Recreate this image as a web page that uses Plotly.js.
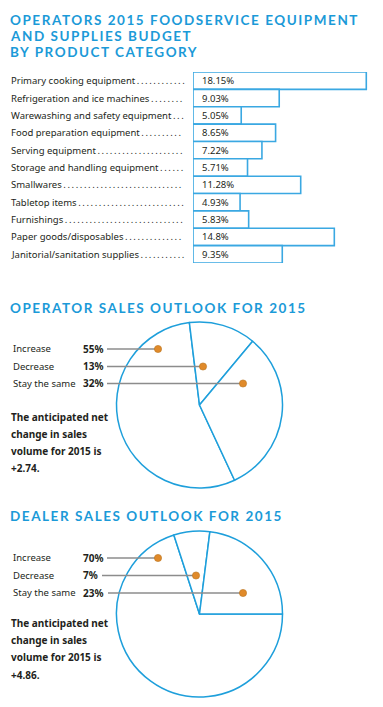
<!DOCTYPE html>
<html><head><meta charset="utf-8">
<script src="https://cdn.plot.ly/plotly-3.0.1.min.js"></script>
<style>
html,body{margin:0;padding:0;background:#fff;}
#chart{width:383px;height:707px;}
text.annotation-text[style*="Lato"]{letter-spacing:1.55px;}
</style></head><body><div id="chart"></div>
<script>
const categories = ['Primary cooking equipment','Refrigeration and ice machines','Warewashing and safety equipment','Food preparation equipment','Serving equipment','Storage and handling equipment','Smallwares','Tabletop items','Furnishings','Paper goods/disposables','Janitorial/sanitation supplies'];
const budgetShare = [18.15, 9.03, 5.05, 8.65, 7.22, 5.71, 11.28, 4.93, 5.83, 14.8, 9.35];
const outlookLabels = ['Increase','Decrease','Stay the same'];
const operatorOutlook = [55, 13, 32];
const dealerOutlook = [70, 7, 23];
const operatorNetChange = '+2.74';
const dealerNetChange = '+4.86';
const titleLines = ['OPERATORS 2015 FOODSERVICE EQUIPMENT','AND SUPPLIES BUDGET','BY PRODUCT CATEGORY'];
const operatorTitle = 'OPERATOR SALES OUTLOOK FOR 2015';
const dealerTitle = 'DEALER SALES OUTLOOK FOR 2015';

const W = 383, H = 707;
const px = x => x / W;
const py = y => 1 - y / H;
const BLUE = '#1b9ad8';
const BAR_LINE = '#3aa8e2';
const TXT = '#231f20';
const BODY = 'Noto Sans, sans-serif';
const HEAD = 'Lato, sans-serif';
const BODY_SIZE = 9.5;

const traces = [
  {type:'bar', orientation:'h', x: budgetShare, y: categories, xaxis:'x', yaxis:'y',
   marker:{color:'#ffffff', line:{color:BAR_LINE, width:1.6}}, hoverinfo:'skip', showlegend:false},
  {type:'pie', values: operatorOutlook, labels: outlookLabels, sort:false, direction:'clockwise', rotation:155,
   domain:{x:[px(116.5), px(282.5)], y:[py(488), py(322)]},
   marker:{colors:['#fff','#fff','#fff'], line:{color:'#1e9fdb', width:1.5}},
   textinfo:'none', hoverinfo:'skip', showlegend:false},
  {type:'pie', values: dealerOutlook, labels: outlookLabels, sort:false, direction:'clockwise', rotation:90,
   domain:{x:[px(116.5), px(282.5)], y:[py(697), py(531)]},
   marker:{colors:['#fff','#fff','#fff'], line:{color:'#1e9fdb', width:1.5}},
   textinfo:'none', hoverinfo:'skip', showlegend:false}
];

const ann = [];
const shapes = [];
const head = (text, y) => ann.push({text, x:px(8), y:py(y), xref:'paper', yref:'paper', xanchor:'left', yanchor:'middle',
  showarrow:false, font:{family:HEAD, size:13.5, color:BLUE, weight:700}});
[20, 35.5, 51.5].forEach((y, i) => head(titleLines[i], y));
head(operatorTitle, 308);
head(dealerTitle, 516);

// leader dots: fill from the end of each label to a fixed column
const ctx = document.createElement('canvas').getContext('2d');
ctx.font = BODY_SIZE + 'px "Noto Sans"';
const unit = '\u2009.';
const unitW = ctx.measureText(unit).width;
const LABEL_X = 9, LEADER_END = 185;
categories.forEach((c, i) => {
  const w = ctx.measureText(c).width;
  const n = Math.max(2, Math.floor((LEADER_END - LABEL_X - w - 2) / unitW));
  ann.push({text: c + unit.repeat(n), x:px(LABEL_X), y:c, xref:'paper', yref:'y', xanchor:'left', yanchor:'middle', showarrow:false,
    font:{family:BODY, size:BODY_SIZE, color:TXT}});
  ann.push({text:budgetShare[i] + '%', x:0, y:c, xref:'x', yref:'y', xanchor:'left', yanchor:'middle', xshift:7, showarrow:false,
    font:{family:BODY, size:BODY_SIZE, color:TXT}});
});

function callouts(values, rowsY, lineStart, dotX, netY, net) {
  values.forEach((v, i) => {
    const y = rowsY[i];
    ann.push({text:outlookLabels[i], x:px(11), y:py(y), xref:'paper', yref:'paper', xanchor:'left', yanchor:'middle', showarrow:false,
      font:{family:BODY, size:BODY_SIZE, color:TXT}});
    ann.push({text:'<b>' + v + '%</b>', x:px(81), y:py(y), xref:'paper', yref:'paper', xanchor:'left', yanchor:'middle', showarrow:false,
      font:{family:BODY, size:10, color:TXT}});
    shapes.push({type:'line', xref:'paper', yref:'paper', x0:px(lineStart[i]), x1:px(dotX[i]), y0:py(y+0.5), y1:py(y+0.5),
      line:{color:'#8c8c8c', width:1.4}});
    shapes.push({type:'circle', xref:'paper', yref:'paper', x0:px(dotX[i]-3.6), x1:px(dotX[i]+3.6), y0:py(y+0.5-3.6), y1:py(y+0.5+3.6),
      fillcolor:'#e08a2a', line:{color:'#b8741f', width:0.6}});
  });
  const lines = ['The anticipated net', 'change in sales', 'volume for 2015 is', net + '.'];
  lines.forEach((t, i) => ann.push({text:'<b>' + t + '</b>', x:px(9), y:py(netY[i]), xref:'paper', yref:'paper', xanchor:'left', yanchor:'middle',
    showarrow:false, font:{family:BODY, size:10, color:TXT}}));
}
callouts(operatorOutlook, [348.5, 366, 383], [107, 107, 107], [158, 203, 243], [416.7, 434, 451, 468], operatorNetChange);
callouts(dealerOutlook, [557.5, 575, 592.5], [107, 102, 108], [158, 196, 243], [623, 640, 657, 675], dealerNetChange);

const layout = {
  width: W, height: H, margin:{l:0, r:0, t:0, b:0}, paper_bgcolor:'#fff', plot_bgcolor:'rgba(0,0,0,0)',
  showlegend:false, bargap:0,
  xaxis:{domain:[px(193), 1], range:[0, 19.9], visible:false, fixedrange:true},
  yaxis:{domain:[py(263), py(72)], type:'category', range:[10.5, -0.5], visible:false, fixedrange:true},
  annotations: ann, shapes: shapes
};
Plotly.newPlot('chart', traces, layout, {staticPlot:true});
</script></body></html>
